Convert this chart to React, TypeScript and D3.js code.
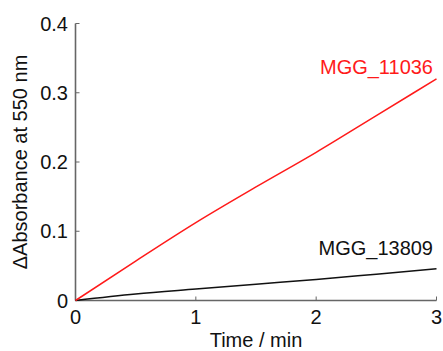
import React from "react";
import * as d3 from "d3";

const timeMin = [0, 0.5, 1, 1.5, 2, 2.5, 3];
const mgg11036 = [0, 0.057, 0.1125, 0.164, 0.214, 0.267, 0.32];
const mgg13809 = [0, 0.0093, 0.0165, 0.0235, 0.0303, 0.038, 0.0458];
const xTicks = [0, 1, 2, 3];
const yTicks = [0, 0.1, 0.2, 0.3, 0.4];
const seriesNames = ["MGG_11036", "MGG_13809"];

const W = 443;
const H = 351;
const FONT = "'Liberation Sans', Arial, sans-serif";

export default function App() {
  const x = d3.scaleLinear().domain([0, 3]).range([75.5, 436.5]);
  const y = d3.scaleLinear().domain([0, 0.4]).range([300.5, 23.5]);
  const line = d3
    .line<number>()
    .x((_, i) => x(timeMin[i]))
    .y((d) => y(d))
    .curve(d3.curveMonotoneX);
  const axisColor = "#666";
  const tick = 4;
  return (
    <svg
      width={W}
      height={H}
      style={{ position: "absolute", left: 0, top: 0, background: "#fff" }}
      fontFamily={FONT}
    >
      <line x1={x(0)} x2={x(0)} y1={y(0.4)} y2={y(0)} stroke={axisColor} strokeWidth={1.6} />
      <line x1={x(0)} x2={x(3)} y1={y(0)} y2={y(0)} stroke={axisColor} strokeWidth={1.6} />
      {yTicks.map((t) => (
        <g key={"y" + t}>
          <line x1={x(0)} x2={x(0) + tick} y1={y(t)} y2={y(t)} stroke={axisColor} strokeWidth={1} />
          <text x={68} y={y(t)} dy="0.35em" textAnchor="end" fontSize={20} fill="#111">
            {t === 0 ? "0" : t.toFixed(1)}
          </text>
        </g>
      ))}
      {xTicks.map((t) => (
        <g key={"x" + t}>
          <line x1={x(t)} x2={x(t)} y1={y(0)} y2={y(0) - tick} stroke={axisColor} strokeWidth={1} />
          <text x={x(t)} y={324} textAnchor="middle" fontSize={20} fill="#111">
            {String(t)}
          </text>
        </g>
      ))}
      <text x={(x(0) + x(3)) / 2} y={347} textAnchor="middle" fontSize={20} fill="#111">
        Time / min
      </text>
      <text
        transform={`translate(27,${(y(0) + y(0.4)) / 2}) rotate(-90)`}
        textAnchor="middle"
        fontSize={20}
        fill="#111"
      >
        ΔAbsorbance at 550 nm
      </text>
      <path d={line(mgg13809) || ""} fill="none" stroke="#111" strokeWidth={1.5} />
      <path d={line(mgg11036) || ""} fill="none" stroke="#ff1a1a" strokeWidth={1.5} />
      <text x={433} y={74} textAnchor="end" fontSize={20} fill="#ff1a1a">
        {seriesNames[0]}
      </text>
      <text x={433} y={255} textAnchor="end" fontSize={20} fill="#111">
        {seriesNames[1]}
      </text>
    </svg>
  );
}
